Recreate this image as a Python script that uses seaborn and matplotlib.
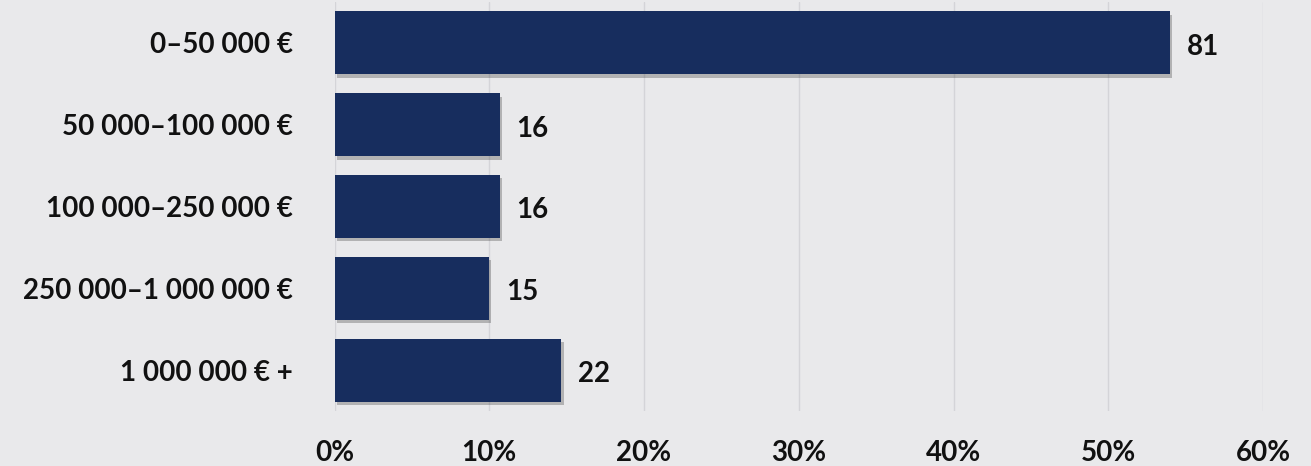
import pandas as pd
import numpy as np
import matplotlib
matplotlib.use("Agg")
import matplotlib.pyplot as plt
import matplotlib.patheffects as pe
from matplotlib.ticker import PercentFormatter
import seaborn as sns

categories = ["0–50 000 €", "50 000–100 000 €", "100 000–250 000 €",
              "250 000–1 000 000 €", "1 000 000 € +"]
counts = [81, 16, 16, 15, 22]
x_ticks = [0, 0.1, 0.2, 0.3, 0.4, 0.5, 0.6]

df = pd.DataFrame({"category": categories, "count": counts})
df["share"] = df["count"] / df["count"].sum()

sns.set_style("white")
plt.rcParams["font.family"] = ["Lato", "DejaVu Sans"]

bg = "#e9e9eb"
fig = plt.figure(figsize=(13.11, 4.66), dpi=100, facecolor=bg)
ax = fig.add_axes([334.5 / 1311, 1 - 411 / 466, (1263 - 334.5) / 1311, 409 / 466])
ax.set_facecolor("none")

sns.barplot(data=df, x="share", y="category", orient="h", color="#172d5e",
            width=0.77, saturation=1, linewidth=0, ax=ax, zorder=3)

shadow = [pe.SimplePatchShadow(offset=(1.5, -2.5), shadow_rgbFace="#333333", alpha=0.3), pe.Normal()]
for bar in ax.patches:
    bar.set_edgecolor("none")
    bar.set_path_effects(shadow)

for i, row in df.iterrows():
    ax.annotate(str(row["count"]), xy=(row["share"], i), xytext=(17, -4),
                textcoords="offset pixels",
                ha="left", va="center", fontsize=20, fontweight="bold", color="#111111")

ax.set_xlim(0, 0.6)
ax.set_xticks(x_ticks)
ax.xaxis.set_major_formatter(PercentFormatter(1.0, decimals=0))
ax.grid(axis="x", color="#d4d4d8", linewidth=1, zorder=0)
ax.set_axisbelow(True)
for s in ax.spines.values():
    s.set_visible(False)
ax.set_xlabel("")
ax.set_ylabel("")
ax.tick_params(axis="x", length=0, pad=21, labelsize=20, labelcolor="#111111")
ax.tick_params(axis="y", length=0, pad=30, labelsize=20, labelcolor="#111111")
for lbl in ax.get_xticklabels() + ax.get_yticklabels():
    lbl.set_fontweight("bold")

fig.savefig("out.png", dpi=100, facecolor=bg)
